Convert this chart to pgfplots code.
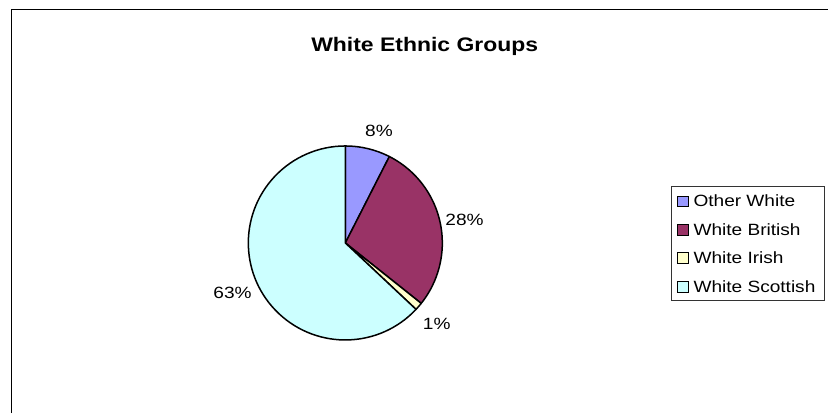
\documentclass[border=0pt]{standalone}
\usepackage{pgfplots}
\pgfplotsset{compat=1.18}
\usepackage{fontspec}
\setmainfont[FakeStretch=1.17]{Liberation Sans}
\definecolor{cOther}{HTML}{9999FF}
\definecolor{cBritish}{HTML}{993366}
\definecolor{cIrish}{HTML}{FFFFCC}
\definecolor{cScottish}{HTML}{CCFFFF}
% data (percent)
\def\vA{7.5}   % Other White
\def\vB{28.2}  % White British
\def\vC{1.3}   % White Irish
\def\vD{63.0}  % White Scottish
\pgfmathsetmacro{\aA}{90}
\pgfmathsetmacro{\aB}{\aA-3.6*\vA}
\pgfmathsetmacro{\aC}{\aB-3.6*\vB}
\pgfmathsetmacro{\aD}{\aC-3.6*\vC}
\pgfmathsetmacro{\aE}{\aD-3.6*\vD}
\begin{document}
\begin{tikzpicture}[x=1bp,y=1bp]
\path[use as bounding box] (0,0) rectangle (828,413);
\draw[line width=1.4bp] (11.3,0) -- (11.3,403.7) -- (828,403.7);
\node[anchor=base, inner sep=0pt, font=\fontsize{19.6bp}{22bp}\selectfont\bfseries] at (424.7,361.3) {White Ethnic Groups};
\begin{axis}[at={(356,175.3)}, anchor=origin, width=194bp, height=194bp,
  scale only axis, hide axis, xmin=-1, xmax=1, ymin=-1, ymax=1, clip=false]
\addplot[draw=none] coordinates {(0,0)};
\filldraw[fill=cOther, draw=black, line width=1.5bp, line join=round] (axis cs:0,0) -- ++(\aA:97bp) arc[start angle=\aA, end angle=\aB, radius=97bp] -- cycle;
\filldraw[fill=cBritish, draw=black, line width=1.5bp, line join=round] (axis cs:0,0) -- ++(\aB:97bp) arc[start angle=\aB, end angle=\aC, radius=97bp] -- cycle;
\filldraw[fill=cIrish, draw=black, line width=1.5bp, line join=round] (axis cs:0,0) -- ++(\aC:97bp) arc[start angle=\aC, end angle=\aD, radius=97bp] -- cycle;
\filldraw[fill=cScottish, draw=black, line width=1.5bp, line join=round] (axis cs:0,0) -- ++(\aD:97bp) arc[start angle=\aD, end angle=\aE, radius=97bp] -- cycle;
\end{axis}
\begin{scope}[every node/.style={inner sep=0pt, font=\fontsize{16.3bp}{19bp}\selectfont}]
\node[anchor=base] at (379,276.3) {8\%};
\node[anchor=base] at (464.5,187.3) {28\%};
\node[anchor=base] at (436.7,83.7) {1\%};
\node[anchor=base] at (232.5,114.7) {63\%};
% legend
\draw[line width=0.8bp, draw=black!80] (671,113) rectangle (824,227);
\filldraw[fill=cOther, draw=black, line width=0.9bp] (677.9,206.3) rectangle ++(10.4,10.4);
\node[anchor=base west] at (693.3,206.3) {Other White};
\filldraw[fill=cBritish, draw=black, line width=0.9bp] (677.9,177.7) rectangle ++(10.4,10.4);
\node[anchor=base west] at (693.3,177.7) {White British};
\filldraw[fill=cIrish, draw=black, line width=0.9bp] (677.9,149.7) rectangle ++(10.4,10.4);
\node[anchor=base west] at (693.3,149.7) {White Irish};
\filldraw[fill=cScottish, draw=black, line width=0.9bp] (677.9,121) rectangle ++(10.4,10.4);
\node[anchor=base west] at (693.3,121) {White Scottish};
\end{scope}
\end{tikzpicture}
\end{document}
